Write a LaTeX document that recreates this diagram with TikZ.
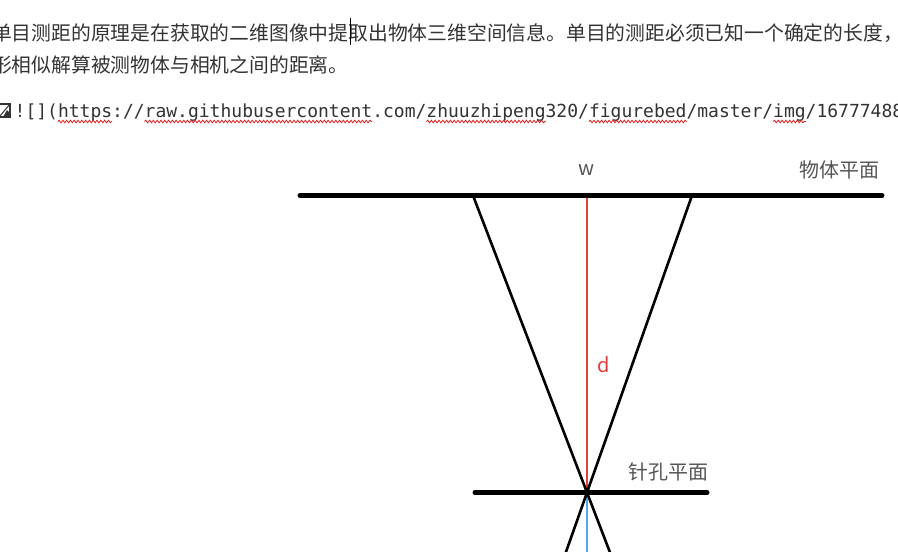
\documentclass[tikz,border=0pt]{standalone}
\usepackage{fontspec}
\setmonofont{DejaVu Sans Mono}
\newfontfamily\cjk{Noto Sans CJK SC}
\usetikzlibrary{calc,positioning,decorations.pathmorphing}

\definecolor{bodytext}{HTML}{333333}
\definecolor{labelgray}{HTML}{555555}
\definecolor{dred}{HTML}{E0403C}
\definecolor{dblue}{HTML}{55A8E8}
\definecolor{spellred}{HTML}{E02020}

\begin{document}
\begin{tikzpicture}[x=1pt,y=-1pt,
		plane/.style={line width=5pt, line cap=round},
		ray/.style={line width=2.6pt},
		para/.style={anchor=base west, inner sep=0pt, text=bodytext, font=\cjk\fontsize{19.8}{24}\selectfont},
		code/.style={anchor=base west, inner sep=0pt, text=bodytext, font=\ttfamily\fontsize{18}{22}\selectfont},
		lbl/.style={inner sep=0pt, text=labelgray, font=\cjk\fontsize{20}{24}\selectfont},
		spell/.style={spellred, line width=0.8pt, decorate, decoration={snake, amplitude=1.3pt, segment length=3.8pt}}]
	\useasboundingbox (0,0) rectangle (898,552);
	\clip (0,0) rectangle (898,552);
	\fill[white] (0,0) rectangle (898,552);

	% text above the figure
	\node[para] (line1) at (-8,40) {单目测距的原理是在获取的二维图像中提取出物体三维空间信息。单目的测距必须已知一个确定的长度，};
	\node[para] (line2) at (-8,72) {形相似解算被测物体与相机之间的距离。};
	\draw[line width=1pt] (350.5,18) -- (350.5,45);

	% broken image icon and link
	\draw[bodytext, line width=1.4pt] (-2,104) rectangle (10,117);
	\fill[bodytext] (3,117) -- (7,110) -- (10,113) -- (10,117) -- cycle;
	\draw[bodytext, line width=1pt] (0,116) -- (10,104);
	\node[code] (link) at (14.5,117) {![](https://raw.githubusercontent.com/zhuuzhipeng320/figurebed/master/img/16777488};
	\foreach \a/\b in {4/9, 12/33, 38/49, 53/62, 70/73}
		\draw[spell] (14.5+\a*10.84,121.5) -- (14.5+\b*10.84,121.5);

	% figure
	\coordinate (objL) at (300,195.5);
	\coordinate (objR) at (882,195.5);
	\coordinate (rayL) at (473,195.5);
	\coordinate (rayR) at (692,195.5);
	\coordinate (top) at (587,195.5);
	\coordinate (pin) at (587,492.5);
	\coordinate (pinL) at (475,492.5);
	\coordinate (pinR) at (707,492.5);
	\coordinate (bottom) at (587,570);

	\draw[dred, line width=2.8pt] (top) -- (pin);
	\draw[dblue, line width=2.8pt] (pin) -- (bottom);
	\draw[ray] (rayL) -- ($(rayL)!1.3!(pin)$);
	\draw[ray] (rayR) -- ($(rayR)!1.3!(pin)$);
	\draw[plane] (objL) -- (objR);
	\draw[plane] (pinL) -- (pinR);

	\node[lbl, anchor=base] (w) [above=19.5pt of top] {w};
	\node[lbl] (objplane) at (839,170) {物体平面};
	\node[lbl, text=dred] (d) at (604,365) {d};
	\node[lbl] (pinplane) at (668,472) {针孔平面};
\end{tikzpicture}
\end{document}
